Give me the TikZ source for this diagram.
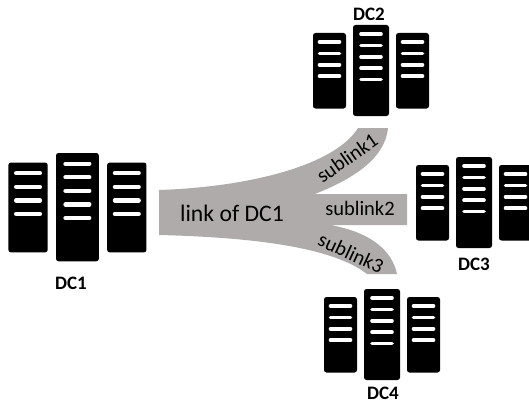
\documentclass[tikz,border=0pt]{standalone}
\usepackage{fontspec}
\setmainfont{Carlito}
\definecolor{linkgray}{HTML}{AFABAB}
\tikzset{
  rack/.style={fill=black,rounded corners=2.5pt},
  slot/.style={draw=white,line cap=round},
  linkshape/.style={fill=linkgray,draw=none},
  linktext/.style={inner sep=0pt,text=black,font=\fontsize{20.5}{24}\selectfont},
  maintext/.style={inner sep=0pt,text=black,font=\fontsize{23.7}{28}\selectfont},
  dctext/.style={inner sep=0pt,text=black,font=\fontsize{19}{22}\bfseries\selectfont}
}
% #1 x of centre rack left edge, #2 top y, #3 scale
\newcommand{\rackgroup}[3]{%
  \begin{scope}[shift={(#1,#2)},x=#3pt,y=-#3pt]
    \fill[rack] (0,0) rectangle (36,91);
    \fill[rack] (-40,8) rectangle (-7,83.5);
    \fill[rack] (43,8) rectangle (76,83.5);
    \foreach \yy in {9,20.4,31.8,43.2,54.6}
      \draw[slot,line width=#3*3.6pt] (8,\yy) -- (28,\yy);
    \foreach \yy in {17,28.4,39.8,51.2} {
      \draw[slot,line width=#3*3.6pt] (-33.5,\yy) -- (-13.5,\yy);
      \draw[slot,line width=#3*3.6pt] (49.5,\yy) -- (69.5,\yy);
    }
  \end{scope}}
\begin{document}
\begin{tikzpicture}[x=1pt,y=-1pt]
\useasboundingbox (0,0) rectangle (529,404);
\clip (0,0) rectangle (529,404);
\fill[linkshape] (159,190)
  .. controls (250,187) and (335,165) .. (358,128)
  -- (388,128)
  .. controls (385,160) and (350,180) .. (315,194)
  -- (407,194) -- (407,225) -- (330,225)
  .. controls (370,232) and (392,250) .. (397,274)
  -- (367,274)
  .. controls (330,245) and (240,237) .. (159,235)
  -- cycle;
\rackgroup{56}{153}{1.19}
\rackgroup{353}{25}{1}
\rackgroup{456}{157}{1}
\rackgroup{364}{289}{1}
\node[maintext] (linklabel) at (232,213) {link of DC1};
\node[linktext,rotate=35] (sub1) at (347,158) {sublink1};
\node[linktext] (sub2) at (360,208) {sublink2};
\node[linktext,rotate=-25] (sub3) at (351,253) {sublink3};
\node[dctext] (dc1) at (71,283) {DC1};
\node[dctext] (dc2) at (369,14) {DC2};
\node[dctext] (dc3) at (474,264) {DC3};
\node[dctext] (dc4) at (383,393) {DC4};
\end{tikzpicture}
\end{document}
